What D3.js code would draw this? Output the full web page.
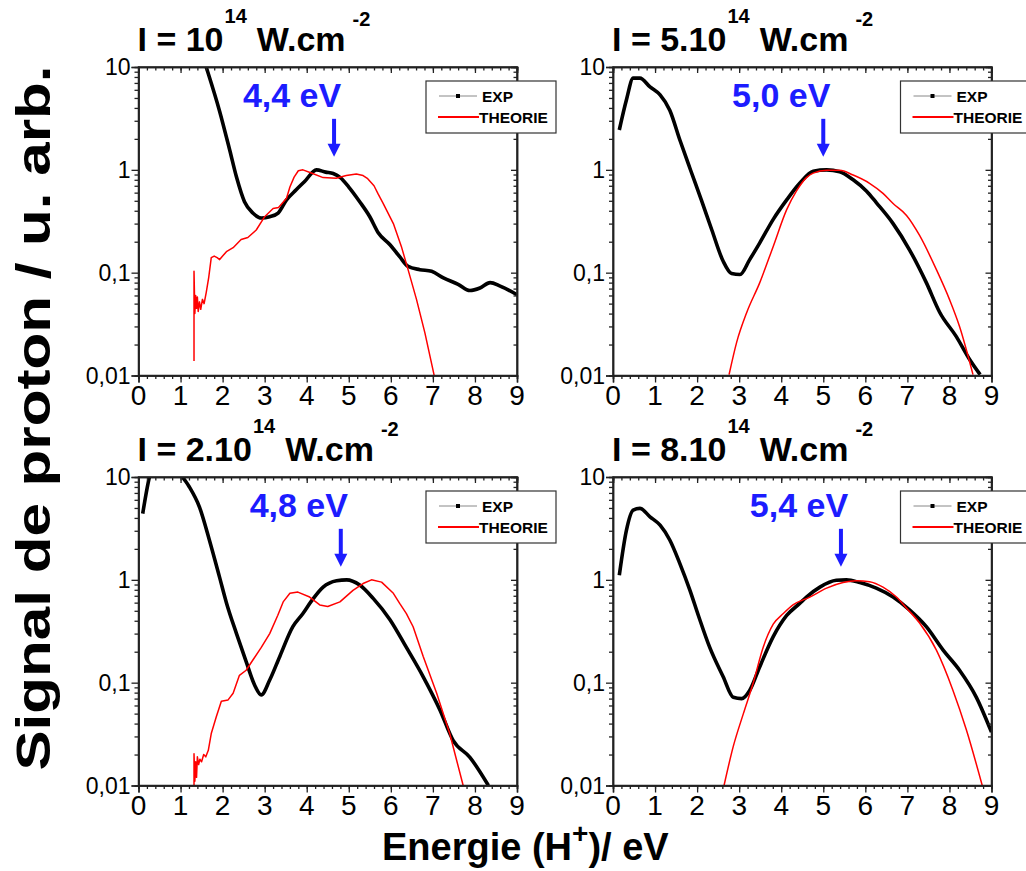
<!DOCTYPE html>
<html>
<head>
<meta charset="utf-8">
<script src="https://cdn.jsdelivr.net/npm/d3@7"></script>
<style>
  html, body { margin: 0; padding: 0; background: #fff; }
  svg { display: block; font-family: "Liberation Sans", Arial, sans-serif; }
</style>
</head>
<body>
<svg id="chart" width="1026" height="871"></svg>
<script>
// ---------------- DATA ----------------
const xTicks = [0, 1, 2, 3, 4, 5, 6, 7, 8, 9];
const yTicks = [10, 1, 0.1, 0.01];
const yTickLabels = ["10", "1", "0,1", "0,01"];
const legendLabels = ["EXP", "THEORIE"];
const intensityPrefix = ["I = 10", "I = 5.10", "I = 2.10", "I = 8.10"];
const peakLabels = ["4,4 eV", "5,0 eV", "4,8 eV", "5,4 eV"];
const arrowEnergy = [4.65, 5.0, 4.81, 5.42];

// I = 10^14 W.cm^-2
const exp1E = [1.45, 1.61, 1.93, 2.17, 2.33, 2.52, 2.72, 2.92, 3.12, 3.32, 3.52, 3.75, 3.95, 4.23, 4.45, 4.63, 4.8, 5.0, 5.26, 5.5, 5.7, 5.98, 6.21, 6.41, 6.69, 6.97, 7.25, 7.6, 7.88, 8.12, 8.36, 8.6, 9.0];
const exp1V = [16, 10, 3.7, 1.55, 0.85, 0.49, 0.38, 0.34, 0.35, 0.38, 0.51, 0.64, 0.77, 1.0, 0.95, 0.92, 0.84, 0.68, 0.49, 0.35, 0.245, 0.187, 0.143, 0.115, 0.107, 0.103, 0.089, 0.077, 0.067, 0.071, 0.080, 0.074, 0.061];
const th1E = [1.32, 1.32, 1.34, 1.36, 1.38, 1.40, 1.42, 1.45, 1.48, 1.52, 1.56, 1.61, 1.67, 1.73, 1.80, 1.87, 1.93, 2.0, 2.09, 2.25, 2.44, 2.6, 2.8, 3.0, 3.2, 3.33, 3.52, 3.6, 3.7, 3.8, 3.91, 4.11, 4.39, 4.7, 4.94, 5.18, 5.34, 5.45, 5.6, 5.7, 5.82, 6.06, 6.25, 6.41, 6.61, 6.81, 7.02, 7.05];
const th1V = [0.0138, 0.103, 0.04, 0.06, 0.045, 0.058, 0.042, 0.052, 0.044, 0.055, 0.05, 0.064, 0.09, 0.14, 0.145, 0.14, 0.134, 0.145, 0.16, 0.175, 0.21, 0.22, 0.26, 0.35, 0.42, 0.43, 0.53, 0.68, 0.85, 0.98, 1.0, 0.93, 0.84, 0.83, 0.88, 0.91, 0.88, 0.82, 0.7, 0.58, 0.47, 0.30, 0.18, 0.107, 0.055, 0.026, 0.0105, 0.009];

// I = 5.10^14 W.cm^-2
const exp2E = [0.15, 0.32, 0.48, 0.64, 0.88, 1.12, 1.35, 1.59, 1.85, 2.1, 2.35, 2.62, 2.82, 3.02, 3.25, 3.49, 3.81, 4.13, 4.44, 4.76, 5.08, 5.39, 5.71, 6.03, 6.26, 6.66, 7.05, 7.45, 7.77, 8.16, 8.48, 8.73];
const exp2V = [2.44, 4.8, 7.8, 7.8, 6.4, 5.35, 3.8, 1.95, 0.98, 0.51, 0.26, 0.129, 0.098, 0.096, 0.134, 0.195, 0.33, 0.51, 0.74, 0.97, 1.0, 0.96, 0.8, 0.62, 0.48, 0.30, 0.167, 0.08, 0.041, 0.024, 0.0143, 0.0102];
const th2E = [2.76, 2.94, 3.18, 3.49, 3.81, 4.13, 4.36, 4.6, 4.76, 5.08, 5.39, 5.71, 6.1, 6.42, 6.66, 6.98, 7.29, 7.69, 8.0, 8.24, 8.56];
const th2V = [0.0102, 0.021, 0.041, 0.080, 0.18, 0.41, 0.62, 0.84, 0.93, 0.99, 0.99, 0.89, 0.74, 0.59, 0.47, 0.36, 0.23, 0.107, 0.055, 0.030, 0.0102];

// I = 2.10^14 W.cm^-2
const exp3E = [0.10, 0.26, 0.5, 0.8, 1.05, 1.21, 1.45, 1.69, 1.93, 2.09, 2.33, 2.56, 2.76, 2.92, 3.12, 3.36, 3.67, 3.91, 4.11, 4.39, 4.71, 4.95, 5.26, 5.58, 5.98, 6.37, 6.77, 7.17, 7.48, 7.88, 8.32];
const exp3V = [4.4, 10, 16, 15, 10, 8.0, 5.1, 2.4, 1.05, 0.6, 0.30, 0.16, 0.095, 0.076, 0.106, 0.18, 0.35, 0.47, 0.62, 0.85, 0.98, 1.0, 0.89, 0.66, 0.41, 0.22, 0.114, 0.054, 0.0275, 0.0188, 0.01];
const th3E = [1.32, 1.32, 1.34, 1.36, 1.38, 1.40, 1.43, 1.46, 1.5, 1.55, 1.6, 1.66, 1.73, 1.85, 1.97, 2.13, 2.25, 2.4, 2.56, 2.72, 2.92, 3.12, 3.31, 3.44, 3.6, 3.79, 4.07, 4.31, 4.5, 4.79, 5.1, 5.34, 5.54, 5.78, 6.06, 6.21, 6.37, 6.53, 6.77, 7.09, 7.4, 7.72];
const th3V = [0.01, 0.0204, 0.011, 0.017, 0.012, 0.019, 0.016, 0.018, 0.017, 0.020, 0.019, 0.022, 0.032, 0.0466, 0.066, 0.068, 0.079, 0.118, 0.132, 0.166, 0.22, 0.30, 0.45, 0.61, 0.74, 0.76, 0.68, 0.57, 0.55, 0.61, 0.79, 0.92, 1.0, 0.95, 0.74, 0.59, 0.47, 0.35, 0.18, 0.079, 0.032, 0.01];

// I = 8.10^14 W.cm^-2
const exp4E = [0.15, 0.32, 0.48, 0.64, 0.88, 1.12, 1.35, 1.59, 1.83, 2.03, 2.3, 2.62, 2.86, 3.06, 3.25, 3.49, 3.81, 4.13, 4.44, 4.6, 4.92, 5.31, 5.55, 5.87, 6.26, 6.66, 7.05, 7.45, 7.85, 8.24, 8.64, 9.0];
const exp4V = [1.11, 3.05, 4.77, 4.95, 4.1, 3.4, 2.44, 1.44, 0.79, 0.45, 0.22, 0.114, 0.072, 0.070, 0.084, 0.143, 0.28, 0.45, 0.59, 0.68, 0.85, 0.99, 1.0, 0.94, 0.83, 0.68, 0.51, 0.35, 0.207, 0.132, 0.072, 0.033];
const th4E = [2.64, 2.86, 3.1, 3.33, 3.57, 3.81, 4.05, 4.28, 4.68, 5.08, 5.47, 5.79, 6.1, 6.42, 6.74, 6.98, 7.29, 7.69, 8.08, 8.4, 8.78];
const th4V = [0.01, 0.024, 0.05, 0.098, 0.22, 0.37, 0.47, 0.57, 0.68, 0.83, 0.94, 0.98, 0.96, 0.85, 0.68, 0.53, 0.38, 0.207, 0.085, 0.035, 0.01];

// ---------------- LAYOUT ----------------
const svg = d3.select("#chart");
const FONT = '"Liberation Sans", Arial, sans-serif';
const BLUE = "#1c1cff";

const panels = [
  {left: 138.5, top: 67, expE: exp1E, expV: exp1V, thE: th1E, thV: th1V, noisy: true},
  {left: 613, top: 67, expE: exp2E, expV: exp2V, thE: th2E, thV: th2V, noisy: false},
  {left: 138.5, top: 477, expE: exp3E, expV: exp3V, thE: th3E, thV: th3V, noisy: true},
  {left: 613, top: 477, expE: exp4E, expV: exp4V, thE: th4E, thV: th4V, noisy: false}
];
const PW = 378.5, PH = 308.5;

const minorX = d3.range(0, 9.001, 0.2).map(d => +d.toFixed(1));
const minorY = [];
[0.01, 0.1, 1].forEach(dec => { for (let k = 2; k <= 9; k++) minorY.push(dec * k); });

panels.forEach((p, i) => {
  const x = d3.scaleLinear().domain([0, 9]).range([p.left, p.left + PW]);
  const y = d3.scaleLog().domain([0.01, 10]).range([p.top + PH, p.top]);
  const g = svg.append("g");

  const clipId = "clip" + i;
  svg.append("clipPath").attr("id", clipId).append("rect")
    .attr("x", p.left).attr("y", p.top).attr("width", PW).attr("height", PH);

  // curves
  const smooth = d3.line().x(d => x(d[0])).y(d => y(d[1])).curve(d3.curveMonotoneX);
  const straight = d3.line().x(d => x(d[0])).y(d => y(d[1])).curve(d3.curveLinear);
  const expData = p.expE.map((e, k) => [e, p.expV[k]]);
  const thData = p.thE.map((e, k) => [e, p.thV[k]]);
  const cg = g.append("g").attr("clip-path", `url(#${clipId})`);
  cg.append("path").datum(expData).attr("d", smooth)
    .attr("fill", "none").attr("stroke", "#000").attr("stroke-width", 3.6).attr("stroke-linejoin", "round");
  cg.append("path").datum(thData).attr("d", p.noisy ? straight : smooth)
    .attr("fill", "none").attr("stroke", "#ff0000").attr("stroke-width", 1.5).attr("stroke-linejoin", "round");

  // axes
  const axCol = "#222";
  const bottom = g.append("g").attr("transform", `translate(0,${p.top + PH})`);
  bottom.call(d3.axisBottom(x).tickValues(minorX).tickSize(3.5).tickFormat(""));
  bottom.append("g").call(d3.axisBottom(x).tickValues(xTicks).tickSize(7).tickFormat(""));
  const top = g.append("g").attr("transform", `translate(0,${p.top})`);
  top.call(d3.axisBottom(x).tickValues(minorX).tickSize(3.5).tickFormat(""));
  top.append("g").call(d3.axisBottom(x).tickValues(xTicks).tickSize(6).tickFormat(""));
  const left = g.append("g").attr("transform", `translate(${p.left},0)`);
  left.call(d3.axisLeft(y).tickValues(minorY).tickSize(4).tickFormat(""));
  left.append("g").call(d3.axisLeft(y).tickValues(yTicks).tickSize(7).tickFormat(""));
  const right = g.append("g").attr("transform", `translate(${p.left + PW},0)`);
  right.call(d3.axisLeft(y).tickValues(minorY).tickSize(3.5).tickFormat(""));
  right.append("g").call(d3.axisLeft(y).tickValues(yTicks).tickSize(6).tickFormat(""));
  g.selectAll(".domain").attr("stroke", axCol).attr("stroke-width", 1.5);
  g.selectAll(".tick line").attr("stroke", axCol).attr("stroke-width", 1.3);

  // frame
  g.append("rect").attr("x", p.left).attr("y", p.top).attr("width", PW).attr("height", PH)
    .attr("fill", "none").attr("stroke", axCol).attr("stroke-width", 1.5);

  // tick labels
  g.selectAll(".xl").data(xTicks).enter().append("text")
    .attr("x", d => x(d)).attr("y", p.top + PH + 29)
    .attr("text-anchor", "middle").attr("font-size", 28).attr("font-family", FONT)
    .text(d => d);
  g.selectAll(".yl").data(yTicks).enter().append("text")
    .attr("x", p.left - 8).attr("y", d => y(d) + 8)
    .attr("text-anchor", "end").attr("font-size", 23).attr("font-family", FONT)
    .text((d, k) => yTickLabels[k]);

  // title
  const t = g.append("text").attr("x", p.left - 1).attr("y", p.top - 16)
    .attr("font-family", FONT).attr("font-weight", "bold").attr("font-size", 34);
  t.append("tspan").text(intensityPrefix[i]);
  t.append("tspan").attr("font-size", 20).attr("dy", -28).attr("dx", 1).text("14");
  t.append("tspan").attr("dx", 10).attr("dy", 28).text("W.cm");
  t.append("tspan").attr("font-size", 20).attr("dx", 7).attr("dy", -25).text("-2");

  // arrow + peak label
  const ax = x(arrowEnergy[i]);
  const tip = y(1) - 13;
  const tailTop = tip - 38;
  g.append("line").attr("x1", ax).attr("x2", ax).attr("y1", tailTop).attr("y2", tip - 10)
    .attr("stroke", BLUE).attr("stroke-width", 4);
  g.append("path").attr("d", `M${ax - 6.5},${tip - 13} L${ax + 6.5},${tip - 13} L${ax},${tip} Z`).attr("fill", BLUE);
  g.append("text").attr("x", ax - 42).attr("y", p.top + 40)
    .attr("text-anchor", "middle").attr("font-family", FONT).attr("font-weight", "bold")
    .attr("font-size", 34).attr("fill", BLUE).text(peakLabels[i]);

  // legend
  const lx = p.left + PW - 91, ly = p.top + 14;
  const lg = g.append("g");
  lg.append("rect").attr("x", lx).attr("y", ly).attr("width", 130).attr("height", 52)
    .attr("fill", "#fff").attr("stroke", "#333").attr("stroke-width", 1.2);
  lg.append("line").attr("x1", lx + 13).attr("x2", lx + 51).attr("y1", ly + 15).attr("y2", ly + 15)
    .attr("stroke", "#888").attr("stroke-width", 1);
  lg.append("rect").attr("x", lx + 30).attr("y", ly + 13).attr("width", 4).attr("height", 4).attr("fill", "#000");
  lg.append("text").attr("x", lx + 56).attr("y", ly + 21).attr("font-family", FONT)
    .attr("font-weight", "bold").attr("font-size", 15.5).text(legendLabels[0]);
  lg.append("line").attr("x1", lx + 12).attr("x2", lx + 53).attr("y1", ly + 36).attr("y2", ly + 36)
    .attr("stroke", "#ff0000").attr("stroke-width", 2);
  lg.append("text").attr("x", lx + 53).attr("y", ly + 42).attr("font-family", FONT)
    .attr("font-weight", "bold").attr("font-size", 15.5).text(legendLabels[1]);
});

// global axis titles
svg.append("text").attr("transform", "translate(50,418) rotate(-90)")
  .attr("text-anchor", "middle").attr("font-family", FONT).attr("font-weight", "bold")
  .attr("font-size", 48).attr("textLength", 705).attr("lengthAdjust", "spacingAndGlyphs")
  .text("Signal de proton / u. arb.");

const xt = svg.append("text").attr("x", 382).attr("y", 860)
  .attr("font-family", FONT).attr("font-weight", "bold").attr("font-size", 38);
xt.append("tspan").text("Energie (H");
xt.append("tspan").attr("font-size", 28).attr("dy", -17).text("+");
xt.append("tspan").attr("dy", 17).text(")/ eV");
</script>
</body>
</html>
